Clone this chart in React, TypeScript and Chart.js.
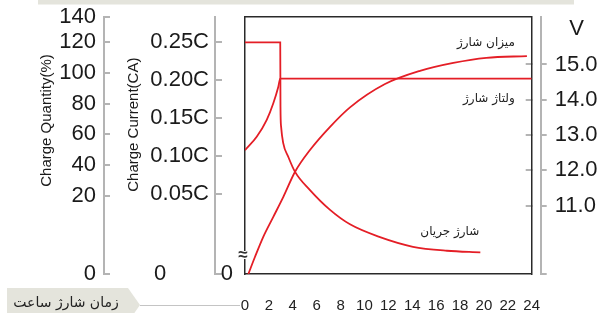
import React, { useEffect, useRef } from 'react';
import { Chart, LinearScale, registerables } from 'chart.js';

Chart.register(...registerables);

// ---------------- data ----------------
const HOURS = [0, 2, 4, 6, 8, 10, 12, 14, 16, 18, 20, 22, 24];

const QTY_TICKS = [140, 120, 100, 80, 60, 40, 20, 0];
const CUR_TICKS = [0.25, 0.2, 0.15, 0.1, 0.05, 0];
const CUR_LABELS = ['0.25C', '0.20C', '0.15C', '0.10C', '0.05C', '0'];
const VOLT_TICKS = [15, 14, 13, 12, 11];
const VOLT_LABELS = ['15.0', '14.0', '13.0', '12.0', '11.0'];

const QTY_NAME = 'میزان شارژ';
const VOLT_NAME = 'ولتاژ شارژ';
const CUR_NAME = 'شارژ جریان';
const X_TITLE = 'زمان شارژ ساعت';
const QTY_TITLE = 'Charge Quantity(%)';
const CUR_TITLE = 'Charge Current(CA)';
const VOLT_UNIT = 'V';

// charge quantity (%)
const QTY_T = [0.28, 0.84, 1.53, 2.37, 3.21, 4.19, 5.44, 7.12, 8.79, 11.72, 14.65, 17.44, 20.2, 23.6];
const QTY_V = [0, 4.4, 9.5, 14.6, 19.7, 35.6, 49.8, 64.9, 77.6, 92.8, 101.4, 106.6, 109.9, 111.0];

// charge voltage (V)
const VOLT_T = [0, 0.98, 1.82, 2.37, 2.79, 2.95, 24];
const VOLT_V = [12.57, 12.95, 13.43, 13.9, 14.37, 14.6, 14.6];

// charge current (CA)
const CUR_T = [0, 2.95, 2.97, 3.02, 3.2, 3.62, 4.19, 5.44, 7.12, 8.79, 11.3, 14.06, 16.9, 19.7];
const CUR_V = [0.25, 0.25, 0.165, 0.139, 0.117, 0.099, 0.079, 0.055, 0.04, 0.031, 0.023, 0.017, 0.0145, 0.0135];

// ---------------- broken (piecewise linear) scale ----------------
type Knot = [number, number]; // [value, fraction of axis height from bottom]
const KNOTS: Record<string, Knot[]> = {
  yQ: [[0, 0], [20, 0.3047], [120, 0.9016], [140, 1]],
  y0: [[0, 0], [20, 0.3047], [120, 0.9016], [140, 1]],
  yC: [[0, 0], [0.05, 0.3117], [0.25, 0.9016]],
  yV: [[11, 0.2665], [15, 0.8152]],
  yR0: [[11, 0.2665], [15, 0.8152]],
};

function knotMap(k: Knot[], v: number, from: number, to: number) {
  let i = 0;
  while (i < k.length - 2 && v > k[i + 1][from]) i++;
  const a = k[i];
  const b = k[i + 1];
  return a[to] + ((v - a[from]) * (b[to] - a[to])) / (b[from] - a[from]);
}
const valAt = (id: string, d: number) => knotMap(KNOTS[id], d, 1, 0);

class KnotScale extends LinearScale {
  static id = 'knots';
  static defaults = {};
  getPixelForValue(value: number) {
    if (value === null || value === undefined || Number.isNaN(value)) return NaN;
    return this.getPixelForDecimal(knotMap(KNOTS[(this as any).id], value, 0, 1));
  }
  getValueForPixel(pixel: number) {
    return knotMap(KNOTS[(this as any).id], this.getDecimalForPixel(pixel), 1, 0);
  }
}
Chart.register(KnotScale as any);

// ---------------- styles ----------------
const FONT = "'Liberation Sans', Arial, sans-serif";
const FA_FONT = "'DejaVu Sans', sans-serif";
const RED = '#e41e26';
const GRAY = '#b4b4b4';
const BOX = '#2a2a2a';
const TXT = '#1a1a1a';
const TAG_BG = '#e4e4dc';

const tickFont = { family: FONT, size: 22 };
const padLeft = (s: string, n: number) => ' '.repeat(n) + s;

const fitTo = (w: number | null, h: number | null) => (s: any) => {
  if (w !== null) s.width = w;
  if (h !== null) s.height = h;
  s.paddingTop = 0;
  s.paddingBottom = 0;
  s.paddingLeft = 0;
  s.paddingRight = 0;
};

const LABEL_OFFSETS = [
  { dx: -12, dy: -13 },
  { dx: -17, dy: 20 },
  { dx: -1, dy: -20 },
];

const decor = {
  id: 'decor',
  beforeDraw(chart: any) {
    const { ctx } = chart;
    ctx.save();
    ctx.fillStyle = '#ffffff';
    ctx.fillRect(0, 0, chart.width, chart.height);
    ctx.fillStyle = TAG_BG;
    ctx.fillRect(38, 0, 536, 4.5);
    ctx.restore();
  },
  afterDraw(chart: any) {
    const { ctx, chartArea, scales } = chart;
    ctx.save();
    // axis break mark on the left edge of the plot box
    const by = chartArea.bottom - 19;
    ctx.fillStyle = '#ffffff';
    ctx.fillRect(chartArea.left - 2, by - 4, 4, 8);
    ctx.fillStyle = '#333';
    ctx.font = `bold 17px ${FONT}`;
    ctx.textAlign = 'center';
    ctx.textBaseline = 'middle';
    ctx.fillText('≈', chartArea.left - 2, by);

    // unit of right axis
    const yV = scales.yV;
    ctx.fillStyle = TXT;
    ctx.font = `22px ${FONT}`;
    ctx.textAlign = 'center';
    ctx.fillText(VOLT_UNIT, yV.left + 36, 29);

    // x-axis title tag
    const ty = 305;
    ctx.beginPath();
    ctx.moveTo(7, 288);
    ctx.lineTo(128, 288);
    ctx.lineTo(140, ty);
    ctx.lineTo(128, 322);
    ctx.lineTo(7, 322);
    ctx.closePath();
    ctx.fillStyle = TAG_BG;
    ctx.fill();
    ctx.strokeStyle = '#c4c4c4';
    ctx.lineWidth = 1;
    ctx.beginPath();
    ctx.moveTo(140, ty + 0.5);
    ctx.lineTo(scales.x.left - 5, ty + 0.5);
    ctx.stroke();
    ctx.fillStyle = '#222';
    ctx.font = `14px ${FA_FONT}`;
    ctx.textAlign = 'center';
    ctx.fillText(X_TITLE, 66, 303);

    // series names near their curves
    ctx.font = `12px ${FA_FONT}`;
    ctx.fillStyle = '#222';
    ctx.textAlign = 'right';
    chart.data.datasets.forEach((ds: any, i: number) => {
      const pts = chart.getDatasetMeta(i).data;
      const last = pts[pts.length - 1];
      const o = LABEL_OFFSETS[i];
      ctx.fillText(ds.label, last.x + o.dx, last.y + o.dy);
    });
    ctx.restore();
  },
};

const toXY = (t: number[], v: number[]) => t.map((x, i) => ({ x, y: v[i] }));

const lineStyle = {
  borderColor: RED,
  borderWidth: 1.8,
  pointRadius: 0,
  fill: false,
  cubicInterpolationMode: 'monotone' as const,
  xAxisID: 'x',
};

export default function App() {
  const ref = useRef<HTMLCanvasElement>(null);
  useEffect(() => {
    Chart.defaults.font.family = FONT;
    Chart.defaults.color = TXT;
    const chart = new Chart(ref.current as HTMLCanvasElement, {
      type: 'line',
      data: {
        datasets: [
          { label: QTY_NAME, data: toXY(QTY_T, QTY_V), yAxisID: 'yQ', ...lineStyle },
          { label: VOLT_NAME, data: toXY(VOLT_T, VOLT_V), yAxisID: 'yV', ...lineStyle },
          { label: CUR_NAME, data: toXY(CUR_T, CUR_V), yAxisID: 'yC', ...lineStyle },
        ],
      } as any,
      options: {
        animation: false,
        responsive: true,
        maintainAspectRatio: false,
        layout: { padding: { top: 17, left: 0, right: 0, bottom: 0 } },
        plugins: { legend: { display: false }, tooltip: { enabled: false }, title: { display: false } },
        scales: {
          x: {
            type: 'linear',
            position: 'bottom',
            min: 0,
            max: 24,
            afterBuildTicks: (s: any) => { s.ticks = HOURS.map((v) => ({ value: v })); },
            afterFit: fitTo(null, 39),
            grid: { display: false, drawTicks: false },
            border: { display: true, color: BOX, width: 1.5 },
            ticks: {
              autoSkip: false, maxRotation: 0, padding: 23, color: '#222',
              font: { family: FONT, size: 15 },
              callback: (v: any) => String(v),
            },
          },
          xTop: {
            type: 'linear',
            position: 'top',
            min: 0,
            max: 24,
            afterFit: fitTo(null, 0),
            grid: { display: false, drawTicks: false },
            border: { display: true, color: BOX, width: 1.5 },
            ticks: { display: false },
          },
          yQ: {
            type: 'knots',
            position: 'left',
            weight: 3,
            min: valAt('yQ', 0),
            max: valAt('yQ', 1),
            afterBuildTicks: (s: any) => { s.ticks = QTY_TICKS.map((v) => ({ value: v })); },
            afterFit: fitTo(104, null),
            grid: { display: true, drawOnChartArea: false, drawTicks: true, tickLength: -6, color: GRAY, lineWidth: 2 },
            border: { display: true, color: GRAY, width: 2 },
            ticks: { autoSkip: false, padding: 14, font: tickFont, color: TXT, callback: (v: any) => String(v) },
            title: {
              display: true, text: padLeft(QTY_TITLE, 12), color: TXT,
              font: { family: FONT, size: 15 }, padding: { top: 38, bottom: 0 },
            },
          },
          yC: {
            type: 'knots',
            position: 'left',
            weight: 2,
            min: valAt('yC', 0),
            max: valAt('yC', 1),
            afterBuildTicks: (s: any) => { s.ticks = CUR_TICKS.map((v) => ({ value: v })); },
            afterFit: fitTo(111, null),
            grid: { display: true, drawOnChartArea: false, drawTicks: true, tickLength: -7, color: GRAY, lineWidth: 2 },
            border: { display: true, color: GRAY, width: 2 },
            ticks: {
              autoSkip: false, padding: 13, font: tickFont, color: TXT,
              callback: (_v: any, i: number) => (CUR_LABELS[i] === '0' ? '0' + ' '.repeat(7) : CUR_LABELS[i]),
            },
            title: {
              display: true, text: padLeft(CUR_TITLE, 10), color: TXT,
              font: { family: FONT, size: 15 }, padding: { top: 21, bottom: 0 },
            },
          },
          y0: {
            type: 'knots',
            position: 'left',
            weight: 1,
            min: valAt('y0', 0),
            max: valAt('y0', 1),
            afterBuildTicks: (s: any) => { s.ticks = [{ value: 0 }]; },
            afterFit: fitTo(30, null),
            grid: { display: false, drawTicks: false },
            border: { display: true, color: BOX, width: 1.5 },
            ticks: { autoSkip: false, padding: 12, font: tickFont, color: TXT, callback: () => '0' },
          },
          yR0: {
            type: 'knots',
            position: 'right',
            weight: 1,
            min: valAt('yR0', 0),
            max: valAt('yR0', 1),
            afterBuildTicks: (s: any) => { s.ticks = VOLT_TICKS.map((v) => ({ value: v })); },
            afterFit: fitTo(9, null),
            grid: { display: true, drawOnChartArea: false, drawTicks: true, tickLength: -6, color: GRAY, lineWidth: 2 },
            border: { display: true, color: BOX, width: 1.5 },
            ticks: { display: false },
          },
          yV: {
            type: 'knots',
            position: 'right',
            weight: 2,
            min: valAt('yV', 0),
            max: valAt('yV', 1),
            afterBuildTicks: (s: any) => {
              s.ticks = [...VOLT_TICKS.map((v) => ({ value: v })), { value: valAt('yV', 0) }];
            },
            afterFit: fitTo(75.3, null),
            grid: { display: true, drawOnChartArea: false, drawTicks: true, tickLength: 6, color: GRAY, lineWidth: 2 },
            border: { display: true, color: GRAY, width: 2 },
            ticks: {
              autoSkip: false, padding: 8, font: tickFont, color: TXT,
              callback: (_v: any, i: number) => VOLT_LABELS[i] ?? '',
            },
          },
        },
      } as any,
      plugins: [decor],
    });
    return () => chart.destroy();
  }, []);

  return (
    <div style={{ position: 'fixed', left: 0, top: 0, width: 616, height: 313, background: '#fff' }}>
      <canvas ref={ref} />
    </div>
  );
}
